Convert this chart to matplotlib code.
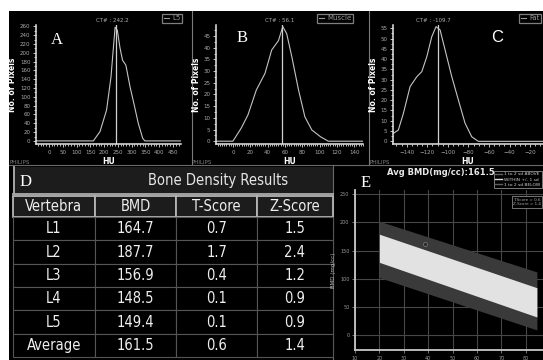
import matplotlib
matplotlib.use('Agg')
import matplotlib.pyplot as plt
from matplotlib.lines import Line2D
from matplotlib.ticker import MultipleLocator

# histogram A - L5 vertebra
hu_a = [-50, 161, 185, 209, 225, 233, 240, 248, 258, 267, 279, 294, 308, 324, 340, 348, 480]
cnt_a = [0, 0, 21, 70, 145, 206, 258, 251, 210, 183, 172, 123, 85, 40, 6, 0, 0]
ct_a = 242.2

# histogram B - muscle
hu_b = [-20, 0, 9.6, 17.3, 27, 37, 44.7, 52.5, 57.5, 62, 68, 75.6, 83, 91, 101, 110, 150]
cnt_b = [0, 0, 5.6, 11.2, 21.9, 29, 39, 43, 49, 46, 36, 22, 10.4, 4.8, 1.9, 0, 0]
ct_b = 56.1

# histogram C - fat
hu_c = [-153, -148.2, -143.3, -136.8, -130.3, -125.4, -120.5, -115.7, -111.5, -107.6,
        -102.7, -96.2, -89.8, -83.3, -76.8, -70.4, -5]
cnt_c = [3.9, 5.5, 13.6, 26.6, 31.4, 33.9, 41.2, 50.9, 55.8, 54.2,
         44.4, 31.4, 20.1, 8.8, 2.2, 0, 0]
ct_c = -109.7

# table D
headers = ['Vertebra', 'BMD', 'T-Score', 'Z-Score']
vertebrae = ['L1', 'L2', 'L3', 'L4', 'L5', 'Average']
bmd = [164.7, 187.7, 156.9, 148.5, 149.4, 161.5]
t_score = [0.7, 1.7, 0.4, 0.1, 0.1, 0.6]
z_score = [1.5, 2.4, 1.2, 0.9, 0.9, 1.4]

# panel E - reference bands (BMD vs age)
band_age = [20, 84.5]
outer_top = [202, 112]
inner_top = [179, 84]
inner_bottom = [129, 32]
outer_bottom = [102, 9]
patient_age = 38.5
avg_bmd = 161.5

W, H = 543, 360
fig = plt.figure(figsize=(W / 100, H / 100), dpi=100, facecolor='white')


def box(x0, y0, x1, y1):
    # axes placed by pixel corners (y from the top)
    return fig.add_axes([x0 / W, 1 - y1 / H, (x1 - x0) / W, (y1 - y0) / H])


def ftext(x, y, s, **kw):
    return fig.text(x / W, 1 - y / H, s, **kw)


# black screen background with panel dividers
bg = box(9, 11, 543, 360)
bg.set_facecolor('black')
bg.set_xlim(9, 543)
bg.set_ylim(360, 11)
bg.set_xticks([])
bg.set_yticks([])
for s in bg.spines.values():
    s.set_visible(False)
bg.plot([191.5, 191.5], [11, 165], color='#7a7a7a', lw=0.8)
bg.plot([369, 369], [11, 165], color='#7a7a7a', lw=0.8)
bg.plot([9, 543], [165, 165], color='#6a6a6a', lw=0.8)
bg.plot([333, 333], [165, 360], color='#6a6a6a', lw=0.8)
# title row of the table
bg.fill_between([13, 333], 167, 193, color='#1c1c1c', lw=0)
bg.plot([14, 14], [167, 193], color='#b0b0b0', lw=1.3)
bg.plot([13, 333], [194, 194], color='#b0b0b0', lw=1.3)


def hist_panel(rect, hu, cnt, ct, xlim, ylim, xstep, xminor, ystep, legend_label, legend_x):
    ax = box(*rect)
    ax.set_facecolor('none')
    ax.plot(hu, cnt, color='#c4c4c4', lw=0.8)
    ax.axvline(ct, color='#d0d0d0', lw=0.9)
    ax.set_xlim(*xlim)
    ax.set_ylim(*ylim)
    ax.xaxis.set_major_locator(MultipleLocator(xstep))
    ax.xaxis.set_minor_locator(MultipleLocator(xminor))
    ax.yaxis.set_major_locator(MultipleLocator(ystep))
    ax.yaxis.set_minor_locator(MultipleLocator(ystep / 2))
    for side in ['top', 'right']:
        ax.spines[side].set_visible(False)
    for side in ['left', 'bottom']:
        ax.spines[side].set_color('#e6e6e6')
        ax.spines[side].set_linewidth(1.1)
    ax.tick_params(which='both', colors='#dddddd', labelcolor='#aaaaaa',
                   labelsize=4, width=0.6, pad=2)
    ax.tick_params(which='major', length=2)
    ax.tick_params(which='minor', length=1.3)
    ax.set_xlabel('HU', color='white', fontsize=5.5, fontweight='bold', labelpad=1.5)
    ax.set_ylabel('No. of Pixels', color='white', fontsize=5.5, fontweight='bold', labelpad=2)
    ax.plot([], [], color='#9a9a9a', lw=0.8, label=legend_label)
    leg = ax.legend(loc='upper left', bbox_to_anchor=(legend_x / W, 1 - 13.5 / H),
                    bbox_transform=fig.transFigure, fontsize=5, handlelength=0.8,
                    handletextpad=0.4, borderpad=0.25, borderaxespad=0,
                    labelcolor='#9a9a9a', fancybox=False)
    leg.get_frame().set_facecolor('black')
    leg.get_frame().set_edgecolor('#a0a0a0')
    leg.get_frame().set_linewidth(0.9)
    return ax


hist_panel((36, 25, 181, 144), hu_a, cnt_a, ct_a, (-47, 479), (-7, 263), 50, 10, 20, 'L5', 162)
hist_panel((216, 25, 363, 144), hu_b, cnt_b, ct_b, (-19.5, 150), (-1.2, 49.7), 20, 2.5, 5, 'Muscle', 317)
hist_panel((393, 25, 543, 144), hu_c, cnt_c, ct_c, (-153.4, -7.5), (-1.3, 56.6), 20, 5, 5, 'Fat', 519)

for x, ct in [(112, ct_a), (280, ct_b), (433, ct_c)]:
    ftext(x, 21, 'CT# : %.1f' % ct, color='#b0b0b0', fontsize=4, ha='center', va='center')
for x in [10, 192, 370]:
    ftext(x, 163, 'PHILIPS', color='#808080', fontsize=4, ha='left', va='center')
ftext(57, 40, 'A', color='white', fontsize=12, family='Liberation Serif', ha='center', va='center')
ftext(242, 38, 'B', color='white', fontsize=12, family='Liberation Serif', ha='center', va='center')
ftext(497, 38, 'C', color='white', fontsize=12, family='Liberation Sans', ha='center', va='center')

# table D
narrow = dict(family='DejaVu Sans', fontstretch='condensed')
ftext(20, 182, 'D', color='white', fontsize=12, family='Liberation Serif', ha='left', va='center')
ftext(218, 180, 'Bone Density Results', color='#e6e6e6', fontsize=10.5,
      ha='center', va='center', **narrow)

ax_t = box(13, 196, 333, 357)
ax_t.axis('off')
cells = [[v, '%.1f' % b, '%.1f' % t, '%.1f' % z]
         for v, b, t, z in zip(vertebrae, bmd, t_score, z_score)]
tbl = ax_t.table(cellText=cells, colLabels=headers, cellLoc='center',
                 colWidths=[0.255, 0.255, 0.252, 0.238], bbox=[0, 0, 1, 1])
tbl.auto_set_font_size(False)
for (r, c), cell in tbl.get_celld().items():
    cell.set_text_props(color='#eeeeee', fontsize=10.5, **narrow)
    if r == 0:
        cell.set_height(21)
        cell.set_facecolor('#1c1c1c')
        cell.set_edgecolor('#b5b5b5')
        cell.set_linewidth(1.3)
    else:
        cell.set_height(23.33)
        cell.set_facecolor('black')
        cell.set_edgecolor('#555555')
        cell.set_linewidth(0.8)

# panel E
ax_e = box(355, 190, 543, 350)
ax_e.set_facecolor('black')
ax_e.set_xlim(10, 87)
ax_e.set_ylim(-26.6, 257.5)
ax_e.set_axisbelow(True)
ax_e.grid(color='#474747', lw=0.8)
ax_e.fill_between(band_age, outer_bottom, outer_top, color='#3a3a3a', lw=0, zorder=2)
ax_e.fill_between(band_age, inner_bottom, inner_top, color='#e2e2e2', lw=0, zorder=3)
ax_e.plot(patient_age, avg_bmd, 'o', ms=3, mfc='#2a2a2a', mec='#707070', mew=0.6, zorder=4)
ax_e.xaxis.set_major_locator(MultipleLocator(10))
ax_e.yaxis.set_major_locator(MultipleLocator(50))
for side in ['top', 'right']:
    ax_e.spines[side].set_visible(False)
for side in ['left', 'bottom']:
    ax_e.spines[side].set_color('#c8c8c8')
    ax_e.spines[side].set_linewidth(1.3)
ax_e.tick_params(colors='#888888', labelcolor='#999999', labelsize=3.5, length=2, width=0.6, pad=2)
ax_e.set_ylabel('BMD (mg/cc)', color='#bbbbbb', fontsize=4, labelpad=3)
ftext(441, 172, 'Avg BMD(mg/cc):%.1f' % avg_bmd, color='#e8e8e8', fontsize=6,
      fontweight='bold', ha='center', va='center')
ftext(366, 183, 'E', color='white', fontsize=12, family='Liberation Serif', ha='center', va='center')

handles = [Line2D([], [], color='#606060', lw=1),
           Line2D([], [], color='#dddddd', lw=1),
           Line2D([], [], color='#606060', lw=1)]
leg_e = ax_e.legend(handles, ['1 to 2 sd ABOVE', 'WITHIN +/- 1 sd', '1 to 2 sd BELOW'],
                    loc='upper left', bbox_to_anchor=(494 / W, 1 - 171 / H),
                    bbox_transform=fig.transFigure, fontsize=3.2, handlelength=1.5,
                    handletextpad=0.5, labelspacing=0.25, borderpad=0.3, borderaxespad=0,
                    labelcolor='#cccccc', fancybox=False)
leg_e.get_frame().set_facecolor('black')
leg_e.get_frame().set_edgecolor('#999999')
leg_e.get_frame().set_linewidth(0.7)
ftext(513, 202, 'T-Score = %.1f\nZ-Score = %.1f' % (t_score[-1], z_score[-1]),
      color='#aaaaaa', fontsize=3.0, ha='left', va='center', linespacing=1.3,
      bbox=dict(facecolor='black', edgecolor='#888888', lw=0.6, pad=1))

fig.savefig('out.png', dpi=100, facecolor='white')
